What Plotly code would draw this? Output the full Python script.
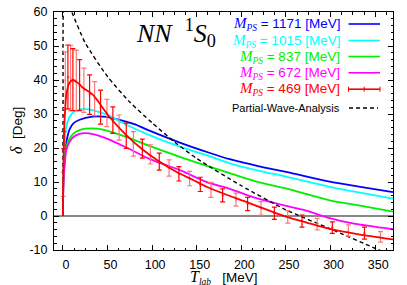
import plotly.graph_objects as go

# ---------------- data ----------------
T_1171 = [0, 0.3, 1, 2, 4, 7.5, 12, 18.7, 33, 45, 60, 80, 97, 131, 164, 187, 220, 250, 299, 330, 370]
d_1171 = [0, 8, 14, 18, 22, 25.5, 27.3, 28.3, 29.2, 29.2, 28.5, 27.0, 25.1, 21.6, 18.6, 16.7, 14.6, 13.0, 10.1, 8.7, 7.0]

T_1015 = [0, 0.3, 1, 2, 3.8, 7.5, 12, 18, 24, 35, 50, 70, 97, 131, 164, 187, 220, 250, 299, 330, 370]
d_1015 = [0, 10, 17, 22, 26.3, 29.2, 30.6, 31.3, 31.5, 31.0, 29.7, 27.0, 23.8, 20.4, 17.6, 15.5, 13.3, 11.6, 8.6, 7.0, 5.1]

T_837 = [0, 0.3, 1, 2, 3.8, 7.5, 12, 20, 31.8, 45, 60, 80, 97, 131, 164, 187, 220, 250, 299, 330, 370]
d_837 = [0, 7, 12.5, 16, 20.4, 22.8, 24.3, 25.4, 25.8, 25.4, 24.2, 22.4, 20.6, 17.4, 14.5, 12.6, 9.9, 8.1, 4.6, 3.2, 1.3]

T_672 = [0, 0.3, 1, 2, 3.8, 7.5, 12, 18, 24, 35, 50, 70, 97, 131, 162, 187, 209, 239, 270, 299, 325, 370]
d_672 = [0, 6, 11.5, 15, 19.4, 21.8, 23.3, 24.1, 24.4, 24.0, 22.7, 20.3, 16.8, 13.5, 9.9, 8.0, 5.9, 3.7, 1.8, -0.6, -2.2, -3.9]

T_469 = [0, 0.3, 1, 2, 4, 7, 11, 16, 22, 33.6, 52, 71, 90, 108, 127, 146, 161, 182, 204, 227, 250, 274, 299, 330, 370]
d_469 = [0, 9, 21, 29, 36, 39, 40, 39.3, 37.8, 35.6, 29.2, 23.8, 19.4, 16.0, 13.0, 10.6, 8.6, 6.4, 4.3, 2.0, -0.2, -2.0, -3.8, -5.3, -6.9]

T_pwa = [0, 0.15, 0.35, 1, 5, 10, 25, 50, 75, 100, 125, 150, 200, 250, 300, 350, 370]
d_pwa = [0, 30, 60, 62, 63.6, 60, 50.9, 41, 33.5, 27.4, 21.8, 16.9, 8.9, 1.8, -3.8, -9.5, -11.7]

# lattice points with error bars (M_PS = 469 MeV)
T_lat = [0.3, 1, 2.7, 5.6, 8.6, 11.2, 15, 18.7, 23.5, 29.9, 35.5, 42.2, 49.3, 56, 63, 71, 79, 89, 98,
         108, 119, 130, 142, 154, 166, 179, 194, 207, 222, 237, 252, 268, 285, 302, 320, 338, 356]
d_lat = [9.3, 22.3, 39.9, 40.9, 40.6, 40.1, 39.9, 38.5, 37.0, 35.7, 34.5, 32.0, 30.3, 28.2, 26.0, 23.6, 21.2, 19.8, 18.1,
         16.0, 14.1, 12.4, 11.0, 9.3, 7.7, 6.05, 4.8, 3.55, 2.25, 0.8, -0.25, -1.5, -2.4, -3.4, -4.25, -5.05, -6.15]
e_lat = [3.5, 2.5, 8.4, 9.4, 9.6, 9.1, 8.9, 7.5, 6.5, 5.8, 5.0, 5.0, 4.0, 3.9, 3.7, 3.7, 3.6, 2.8, 2.8,
         2.5, 2.4, 2.1, 2.1, 2.1, 2.2, 1.9, 1.9, 1.95, 1.95, 1.8, 1.85, 1.8, 1.7, 1.7, 1.65, 1.75, 1.55]

masses = ["1171", "1015", "837", "672", "469"]
colors = ["#0000ff", "#00ffff", "#00ee00", "#ff00ff", "#ff0000"]

x_ticks = [0, 50, 100, 150, 200, 250, 300, 350]
x_ticktext = ["0", "50", "100", "150", "200", "250", "300", "350"]
y_ticks = [-10, 0, 10, 20, 30, 40, 50, 60]
y_ticktext = ["-10", "0", "10", "20", "30", "40", "50", "60"]

# ---------------- figure ----------------
fig = go.Figure()

curves = [(T_1171, d_1171), (T_1015, d_1015), (T_837, d_837), (T_672, d_672)]
for (tx, dy), c in zip(curves, colors[:4]):
    fig.add_trace(go.Scatter(x=tx, y=dy, mode="lines", line=dict(color=c, width=1.8, shape="spline", smoothing=0.8),
                             showlegend=False, hoverinfo="skip"))

fig.add_trace(go.Scatter(x=T_pwa, y=d_pwa, mode="lines",
                         line=dict(color="black", width=1.4, dash="4px,3px", shape="spline", smoothing=0.6),
                         showlegend=False, hoverinfo="skip"))

# error bars: alternating lighter / darker
for sl, col in [(slice(0, None, 2), "#ff7878"), (slice(1, None, 2), "#ff0000")]:
    fig.add_trace(go.Scatter(x=T_lat[sl], y=d_lat[sl], mode="markers",
                             marker=dict(color=col, size=2),
                             error_y=dict(type="data", array=e_lat[sl], color=col, thickness=1.2, width=2.5),
                             showlegend=False, hoverinfo="skip"))

fig.add_trace(go.Scatter(x=T_469, y=d_469, mode="lines", line=dict(color=colors[4], width=1.8, shape="spline", smoothing=0.8),
                         showlegend=False, hoverinfo="skip"))

# ---------------- layout ----------------
W, H = 407, 285
L, R, Tm, B = 54, 14, 12, 35
pw, ph = W - L - R, H - Tm - B


def px(xp):
    return (xp - L) / pw


def py(yp):
    return (H - B - yp) / ph


tickfont = dict(family="Liberation Sans, Arial, sans-serif", size=12.5, color="black")
axis_common = dict(showline=True, linecolor="black", linewidth=1, mirror="allticks", ticks="inside",
                   ticklen=5, tickwidth=1, tickcolor="black", showgrid=False, tickfont=tickfont,
                   automargin=False)

fig.update_layout(
    width=W, height=H, margin=dict(l=L, r=R, t=Tm, b=B, autoexpand=False),
    paper_bgcolor="white", plot_bgcolor="white",
    xaxis=dict(range=[-10, 370], tickvals=x_ticks, ticktext=x_ticktext, zeroline=False,
               minor=dict(ticks="inside", ticklen=2.5, dtick=12.5, tick0=0, tickcolor="black"),
               ticklabelshift=3, ticklabelstandoff=3, **axis_common),
    yaxis=dict(range=[-10, 60], tickvals=y_ticks, ticktext=y_ticktext, zeroline=True, zerolinecolor="#888888",
               zerolinewidth=1.6,
               minor=dict(ticks="inside", ticklen=2.5, dtick=2, tick0=0, tickcolor="black"),
               ticklabelstandoff=3, **axis_common),
)

serif = "Liberation Serif, Times New Roman, serif"
sans = "Liberation Sans, Arial, sans-serif"

annotations = []
# title
annotations.append(dict(xref="paper", yref="paper", x=px(134), y=py(33), xanchor="left", yanchor="middle",
                        text="<i>NN</i>  <sup>1</sup><i>S</i><sub>0</sub>", showarrow=False,
                        font=dict(family=serif, size=26, color="black")))
# axis titles
annotations.append(dict(xref="paper", yref="paper", x=px(223), y=py(285), yshift=-4, xanchor="center", yanchor="bottom",
                        text='<span style="font-family:Liberation Serif;font-size:16px"><i>T</i></span>'
                             '<sub><span style="font-family:Liberation Serif;font-style:italic">lab</span></sub>'
                             '   [MeV]',
                        showarrow=False, font=dict(family=sans, size=13.5, color="black")))
annotations.append(dict(xref="paper", yref="paper", x=px(16), y=0.5, xanchor="center", yanchor="middle",
                        textangle=-90,
                        text='<span style="font-family:Liberation Serif;font-size:16px"><i>δ</i></span>  [Deg]',
                        showarrow=False, font=dict(family=sans, size=13.5, color="black")))

row_y = [24, 40.5, 56.5, 72.8, 89.2]
shapes = []
for m, c, yy in zip(masses, colors, row_y):
    annotations.append(dict(xref="paper", yref="paper", x=px(342), y=py(yy), xanchor="right", yanchor="middle",
                            text='<span style="font-family:Liberation Serif;font-size:15px"><i>M</i></span>'
                                 '<sub><span style="font-family:Liberation Serif;font-style:italic">PS</span></sub>'
                                 f' = {m} [MeV]',
                            showarrow=False, font=dict(family=sans, size=13.5, color=c)))
    shapes.append(dict(type="line", xref="paper", yref="paper", x0=px(348.5), x1=px(380), y0=py(yy), y1=py(yy),
                       line=dict(color=c, width=1.6)))
# error-bar key ticks
for xx in [348.5, 364.2, 380]:
    shapes.append(dict(type="line", xref="paper", yref="paper", x0=px(xx), x1=px(xx),
                       y0=py(row_y[4] - 2.5), y1=py(row_y[4] + 2.5), line=dict(color=colors[4], width=1)))
# PWA key
annotations.append(dict(xref="paper", yref="paper", x=px(342), y=py(108), xanchor="right", yanchor="middle",
                        text="Partial-Wave-Analysis", showarrow=False,
                        font=dict(family=sans, size=11, color="black")))
shapes.append(dict(type="line", xref="paper", yref="paper", x0=px(349), x1=px(378), y0=py(108), y1=py(108),
                   line=dict(color="black", width=1.4, dash="4px,3px")))

fig.update_layout(annotations=annotations, shapes=shapes)

fig.write_html("out.html", config={"displayModeBar": False},
               post_script="document.body.style.margin='0';document.body.style.overflow='hidden';")
